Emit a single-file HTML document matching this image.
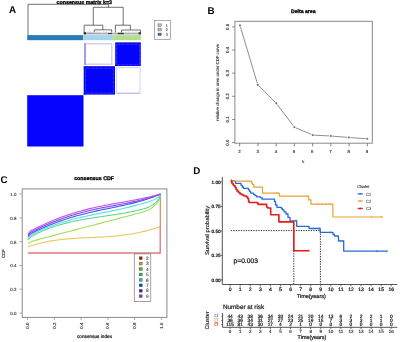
<!DOCTYPE html>
<html><head><meta charset="utf-8"><title>figure</title>
<style>
html,body{margin:0;padding:0;background:#fff;width:400px;height:342px;overflow:hidden;}
svg{display:block;will-change:transform;filter:blur(0.3px);}
text{font-family:"Liberation Sans", sans-serif;text-rendering:geometricPrecision;}
</style></head>
<body>
<svg width="400" height="342" viewBox="0 0 400 342">
<rect x="0" y="0" width="400" height="342" fill="#fff"/>
<text x="8.9" y="12.5" font-size="9.8" text-anchor="start" font-weight="bold" fill="#000" >A</text>
<text x="207.4" y="13.9" font-size="9.8" text-anchor="start" font-weight="bold" fill="#000" >B</text>
<text x="0.4" y="183.3" font-size="9.8" text-anchor="start" font-weight="bold" fill="#000" >C</text>
<text x="193.3" y="173.6" font-size="9.8" text-anchor="start" font-weight="bold" fill="#000" >D</text>
<text x="56.6" y="4.3" font-size="5.3" text-anchor="start" font-weight="bold" fill="#000" stroke="#000" stroke-width="0.3" textLength="55.4" lengthAdjust="spacingAndGlyphs" >consensus matrix k=3</text>
<line x1="28" y1="4.3" x2="108.6" y2="4.3" stroke="#333" stroke-width="0.7" />
<line x1="28" y1="4.3" x2="28" y2="35" stroke="#333" stroke-width="0.7" />
<line x1="108.6" y1="4.3" x2="108.6" y2="7.3" stroke="#333" stroke-width="0.7" />
<line x1="93.3" y1="7.3" x2="123.2" y2="7.3" stroke="#333" stroke-width="0.7" />
<line x1="93.3" y1="7.3" x2="93.3" y2="25.2" stroke="#333" stroke-width="0.7" />
<line x1="123.2" y1="7.3" x2="123.2" y2="25.2" stroke="#333" stroke-width="0.7" />
<line x1="84.2" y1="25.2" x2="102.8" y2="25.2" stroke="#333" stroke-width="0.7" />
<line x1="84.2" y1="25.2" x2="84.2" y2="34" stroke="#333" stroke-width="0.7" />
<line x1="102.8" y1="25.2" x2="102.8" y2="29.8" stroke="#333" stroke-width="0.7" />
<line x1="94.3" y1="29.8" x2="111.7" y2="29.8" stroke="#333" stroke-width="0.7" />
<line x1="94.3" y1="29.8" x2="94.3" y2="34" stroke="#333" stroke-width="0.7" />
<line x1="111.7" y1="29.8" x2="111.7" y2="34" stroke="#333" stroke-width="0.7" />
<line x1="115.4" y1="25.2" x2="130.4" y2="25.2" stroke="#333" stroke-width="0.7" />
<line x1="115.4" y1="25.2" x2="115.4" y2="34" stroke="#333" stroke-width="0.7" />
<line x1="130.4" y1="25.2" x2="130.4" y2="30" stroke="#333" stroke-width="0.7" />
<line x1="121.5" y1="30" x2="140.5" y2="30" stroke="#333" stroke-width="0.7" />
<line x1="121.5" y1="30" x2="121.5" y2="34" stroke="#333" stroke-width="0.7" />
<line x1="140.5" y1="30" x2="140.5" y2="34" stroke="#333" stroke-width="0.7" />
<rect x="84" y="32.3" width="57" height="1.9" fill="#dcdce2"/>
<rect x="86.5" y="32.3" width="9" height="1.6" fill="#c8c0ea"/>
<line x1="84" y1="33.8" x2="141" y2="33.8" stroke="#777" stroke-width="0.7"/>
<rect x="83.8" y="32.2" width="2.2" height="2.2" fill="#222"/>
<rect x="117.8" y="32.8" width="6" height="1.4" fill="#333"/>
<rect x="138.6" y="32.2" width="2.4" height="2.2" fill="#333"/>
<rect x="108" y="32.9" width="4" height="1.2" fill="#444"/>
<line x1="88" y1="31.2" x2="88" y2="33.5" stroke="#aaa" stroke-width="0.4"/>
<line x1="90.5" y1="31.2" x2="90.5" y2="33.5" stroke="#aaa" stroke-width="0.4"/>
<line x1="97" y1="31.2" x2="97" y2="33.5" stroke="#aaa" stroke-width="0.4"/>
<line x1="99.5" y1="31.2" x2="99.5" y2="33.5" stroke="#aaa" stroke-width="0.4"/>
<line x1="104" y1="31.2" x2="104" y2="33.5" stroke="#aaa" stroke-width="0.4"/>
<line x1="106.5" y1="31.2" x2="106.5" y2="33.5" stroke="#aaa" stroke-width="0.4"/>
<line x1="126" y1="31.2" x2="126" y2="33.5" stroke="#aaa" stroke-width="0.4"/>
<line x1="129" y1="31.2" x2="129" y2="33.5" stroke="#aaa" stroke-width="0.4"/>
<line x1="133" y1="31.2" x2="133" y2="33.5" stroke="#aaa" stroke-width="0.4"/>
<line x1="136" y1="31.2" x2="136" y2="33.5" stroke="#aaa" stroke-width="0.4"/>
<rect x="27.2" y="35.1" width="55.9" height="5.1" fill="#2a7aba" stroke="none" stroke-width="1" />
<rect x="83.1" y="35.1" width="30.1" height="5.1" fill="#a4d4ee" stroke="none" stroke-width="1" />
<rect x="113.2" y="35.1" width="27.7" height="5.1" fill="#b4de8c" stroke="none" stroke-width="1" />
<rect x="27.2" y="95.2" width="56.3" height="51.3" fill="#0505ff" stroke="none" stroke-width="1" />
<rect x="115.2" y="42.6" width="25.6" height="23.4" fill="#0505ff" stroke="none" stroke-width="1" />
<rect x="83.7" y="66.4" width="31.3" height="28.2" fill="#0505ff" stroke="none" stroke-width="1" />
<rect x="85.5" y="68.2" width="27.9" height="25.0" fill="#0404f8" stroke="none" stroke-width="1" />
<rect x="85.6" y="68.3" width="27.7" height="24.8" fill="none" stroke="#4040ff" stroke-width="1.0" stroke-dasharray="0.8 0.5"/>
<rect x="116.6" y="44.2" width="23.0" height="20.6" fill="#0404f8" stroke="none" stroke-width="1" />
<rect x="116.7" y="44.3" width="22.8" height="20.4" fill="none" stroke="#4040ff" stroke-width="1.0" stroke-dasharray="0.8 0.5"/>
<rect x="83.7" y="93.2" width="1.6" height="1.4" fill="#0000a0" stroke="none" stroke-width="1" />
<rect x="115.2" y="64.8" width="1.4" height="1.2" fill="#0000a0" stroke="none" stroke-width="1" />
<rect x="115.2" y="42.6" width="25.6" height="1.0" fill="#1010c8" stroke="none" stroke-width="1" />
<rect x="83.7" y="66.4" width="31.3" height="0.9" fill="#1010c8" stroke="none" stroke-width="1" />
<rect x="85.2" y="43.8" width="26.6" height="20.4" fill="none" stroke="#c4c8f4" stroke-width="1.2"/>
<line x1="85.0" y1="43" x2="85.0" y2="65" stroke="#8d8ff0" stroke-width="1.6"/>
<rect x="116.6" y="67.5" width="23.5" height="25.8" fill="none" stroke="#d2d4f6" stroke-width="1"/>
<line x1="116.6" y1="93.2" x2="140.1" y2="93.2" stroke="#b0b2f0" stroke-width="0.9"/>
<rect x="154.4" y="20.4" width="16.0" height="19.1" fill="#fff" stroke="#777" stroke-width="0.6" />
<rect x="158.0" y="23.9" width="3.2" height="2.4" fill="#a6cee3" stroke="#555" stroke-width="0.5" />
<rect x="158.0" y="28.5" width="3.2" height="2.4" fill="#b2df8a" stroke="#555" stroke-width="0.5" />
<rect x="158.0" y="33.1" width="3.2" height="2.4" fill="#1f78b4" stroke="#555" stroke-width="0.5" />
<text x="166.8" y="26.6" font-size="3.8" text-anchor="middle" font-weight="normal" fill="#444" stroke="#444" stroke-width="0.08" >1</text>
<text x="166.8" y="31.2" font-size="3.8" text-anchor="middle" font-weight="normal" fill="#444" stroke="#444" stroke-width="0.08" >2</text>
<text x="166.8" y="35.8" font-size="3.8" text-anchor="middle" font-weight="normal" fill="#444" stroke="#444" stroke-width="0.08" >3</text>
<text x="303.3" y="13.0" font-size="5.2" text-anchor="middle" font-weight="bold" fill="#000" stroke="#000" stroke-width="0.3" textLength="24.5" lengthAdjust="spacingAndGlyphs" >Delta area</text>
<rect x="234.9" y="21.3" width="137.4" height="121.9" fill="none" stroke="#8a8a8a" stroke-width="1" />
<line x1="232.2" y1="142.6" x2="234.9" y2="142.6" stroke="#666" stroke-width="0.8" />
<text x="228.8" y="142.6" font-size="4.4" text-anchor="middle" font-weight="normal" fill="#333" stroke="#333" stroke-width="0.15" transform="rotate(-90 228.8 142.6)" >0.0</text>
<line x1="232.2" y1="119.44999999999999" x2="234.9" y2="119.44999999999999" stroke="#666" stroke-width="0.8" />
<text x="228.8" y="119.44999999999999" font-size="4.4" text-anchor="middle" font-weight="normal" fill="#333" stroke="#333" stroke-width="0.15" transform="rotate(-90 228.8 119.44999999999999)" >0.1</text>
<line x1="232.2" y1="96.29999999999998" x2="234.9" y2="96.29999999999998" stroke="#666" stroke-width="0.8" />
<text x="228.8" y="96.29999999999998" font-size="4.4" text-anchor="middle" font-weight="normal" fill="#333" stroke="#333" stroke-width="0.15" transform="rotate(-90 228.8 96.29999999999998)" >0.2</text>
<line x1="232.2" y1="73.14999999999999" x2="234.9" y2="73.14999999999999" stroke="#666" stroke-width="0.8" />
<text x="228.8" y="73.14999999999999" font-size="4.4" text-anchor="middle" font-weight="normal" fill="#333" stroke="#333" stroke-width="0.15" transform="rotate(-90 228.8 73.14999999999999)" >0.3</text>
<line x1="232.2" y1="49.999999999999986" x2="234.9" y2="49.999999999999986" stroke="#666" stroke-width="0.8" />
<text x="228.8" y="49.999999999999986" font-size="4.4" text-anchor="middle" font-weight="normal" fill="#333" stroke="#333" stroke-width="0.15" transform="rotate(-90 228.8 49.999999999999986)" >0.4</text>
<line x1="232.2" y1="26.849999999999994" x2="234.9" y2="26.849999999999994" stroke="#666" stroke-width="0.8" />
<text x="228.8" y="26.849999999999994" font-size="4.4" text-anchor="middle" font-weight="normal" fill="#333" stroke="#333" stroke-width="0.15" transform="rotate(-90 228.8 26.849999999999994)" >0.5</text>
<line x1="239.7" y1="143.2" x2="239.7" y2="146.4" stroke="#666" stroke-width="0.8" />
<text x="239.39999999999998" y="153.2" font-size="4.4" text-anchor="middle" font-weight="normal" fill="#333" stroke="#333" stroke-width="0.15" >2</text>
<line x1="257.93" y1="143.2" x2="257.93" y2="146.4" stroke="#666" stroke-width="0.8" />
<text x="257.63" y="153.2" font-size="4.4" text-anchor="middle" font-weight="normal" fill="#333" stroke="#333" stroke-width="0.15" >3</text>
<line x1="276.15999999999997" y1="143.2" x2="276.15999999999997" y2="146.4" stroke="#666" stroke-width="0.8" />
<text x="275.85999999999996" y="153.2" font-size="4.4" text-anchor="middle" font-weight="normal" fill="#333" stroke="#333" stroke-width="0.15" >4</text>
<line x1="294.39" y1="143.2" x2="294.39" y2="146.4" stroke="#666" stroke-width="0.8" />
<text x="294.09" y="153.2" font-size="4.4" text-anchor="middle" font-weight="normal" fill="#333" stroke="#333" stroke-width="0.15" >5</text>
<line x1="312.62" y1="143.2" x2="312.62" y2="146.4" stroke="#666" stroke-width="0.8" />
<text x="312.32" y="153.2" font-size="4.4" text-anchor="middle" font-weight="normal" fill="#333" stroke="#333" stroke-width="0.15" >6</text>
<line x1="330.85" y1="143.2" x2="330.85" y2="146.4" stroke="#666" stroke-width="0.8" />
<text x="330.55" y="153.2" font-size="4.4" text-anchor="middle" font-weight="normal" fill="#333" stroke="#333" stroke-width="0.15" >7</text>
<line x1="349.08" y1="143.2" x2="349.08" y2="146.4" stroke="#666" stroke-width="0.8" />
<text x="348.78" y="153.2" font-size="4.4" text-anchor="middle" font-weight="normal" fill="#333" stroke="#333" stroke-width="0.15" >8</text>
<line x1="367.31" y1="143.2" x2="367.31" y2="146.4" stroke="#666" stroke-width="0.8" />
<text x="367.01" y="153.2" font-size="4.4" text-anchor="middle" font-weight="normal" fill="#333" stroke="#333" stroke-width="0.15" >9</text>
<text x="303.2" y="163.1" font-size="4.0" text-anchor="middle" font-weight="normal" fill="#333" stroke="#333" stroke-width="0.12" >k</text>
<text x="218.7" y="82.5" font-size="4.3" text-anchor="middle" font-weight="normal" fill="#333" stroke="#333" stroke-width="0.1" transform="rotate(-90 218.7 82.5)" textLength="77" lengthAdjust="spacingAndGlyphs" >relative change in area under CDF curve</text>
<line x1="240.46" y1="26.93" x2="257.34" y2="83.37" stroke="#909090" stroke-width="1.0" />
<line x1="258.93" y1="86.03" x2="275.07" y2="102.17" stroke="#909090" stroke-width="1.0" />
<line x1="277.17" y1="104.57" x2="293.43" y2="125.93" stroke="#909090" stroke-width="1.0" />
<line x1="295.87" y1="127.83" x2="311.33" y2="134.47" stroke="#909090" stroke-width="1.0" />
<line x1="314.4" y1="135.18" x2="329.3" y2="135.92" stroke="#909090" stroke-width="1.0" />
<line x1="332.49" y1="136.13" x2="347.31" y2="137.37" stroke="#909090" stroke-width="1.0" />
<line x1="350.5" y1="137.61" x2="365.7" y2="138.69" stroke="#909090" stroke-width="1.0" />
<rect x="239.1" y="24.5" width="1.8" height="1.8" fill="#707070" stroke="none" stroke-width="1" />
<rect x="256.90000000000003" y="84.0" width="1.8" height="1.8" fill="#707070" stroke="none" stroke-width="1" />
<rect x="275.3" y="102.39999999999999" width="1.8" height="1.8" fill="#707070" stroke="none" stroke-width="1" />
<rect x="293.5" y="126.3" width="1.8" height="1.8" fill="#707070" stroke="none" stroke-width="1" />
<rect x="311.90000000000003" y="134.2" width="1.8" height="1.8" fill="#707070" stroke="none" stroke-width="1" />
<rect x="330.0" y="135.1" width="1.8" height="1.8" fill="#707070" stroke="none" stroke-width="1" />
<rect x="348.0" y="136.6" width="1.8" height="1.8" fill="#707070" stroke="none" stroke-width="1" />
<rect x="366.40000000000003" y="137.9" width="1.8" height="1.8" fill="#707070" stroke="none" stroke-width="1" />
<text x="94.1" y="180.4" font-size="5.25" text-anchor="middle" font-weight="bold" fill="#000" stroke="#000" stroke-width="0.3" textLength="39.8" lengthAdjust="spacingAndGlyphs" >consensus CDF</text>
<rect x="22.2" y="188.9" width="144.7" height="128.5" fill="none" stroke="#8a8a8a" stroke-width="1" />
<line x1="19.4" y1="313.0" x2="22.2" y2="313.0" stroke="#8a8a8a" stroke-width="0.7" />
<text x="16.4" y="315.0" font-size="4.4" text-anchor="end" font-weight="normal" fill="#333" stroke="#333" stroke-width="0.14" >0.0</text>
<line x1="27.6" y1="317.4" x2="27.6" y2="320.0" stroke="#8a8a8a" stroke-width="0.7" />
<text x="29.1" y="325.6" font-size="4.4" text-anchor="middle" font-weight="normal" fill="#333" stroke="#333" stroke-width="0.14" transform="rotate(-90 29.1 325.6)" >0.0</text>
<line x1="19.4" y1="289.2" x2="22.2" y2="289.2" stroke="#8a8a8a" stroke-width="0.7" />
<text x="16.4" y="291.2" font-size="4.4" text-anchor="end" font-weight="normal" fill="#333" stroke="#333" stroke-width="0.14" >0.2</text>
<line x1="54.36000000000001" y1="317.4" x2="54.36000000000001" y2="320.0" stroke="#8a8a8a" stroke-width="0.7" />
<text x="55.86000000000001" y="325.6" font-size="4.4" text-anchor="middle" font-weight="normal" fill="#333" stroke="#333" stroke-width="0.14" transform="rotate(-90 55.86000000000001 325.6)" >0.2</text>
<line x1="19.4" y1="265.4" x2="22.2" y2="265.4" stroke="#8a8a8a" stroke-width="0.7" />
<text x="16.4" y="267.4" font-size="4.4" text-anchor="end" font-weight="normal" fill="#333" stroke="#333" stroke-width="0.14" >0.4</text>
<line x1="81.12" y1="317.4" x2="81.12" y2="320.0" stroke="#8a8a8a" stroke-width="0.7" />
<text x="82.62" y="325.6" font-size="4.4" text-anchor="middle" font-weight="normal" fill="#333" stroke="#333" stroke-width="0.14" transform="rotate(-90 82.62 325.6)" >0.4</text>
<line x1="19.4" y1="241.60000000000002" x2="22.2" y2="241.60000000000002" stroke="#8a8a8a" stroke-width="0.7" />
<text x="16.4" y="243.60000000000002" font-size="4.4" text-anchor="end" font-weight="normal" fill="#333" stroke="#333" stroke-width="0.14" >0.6</text>
<line x1="107.88" y1="317.4" x2="107.88" y2="320.0" stroke="#8a8a8a" stroke-width="0.7" />
<text x="109.38" y="325.6" font-size="4.4" text-anchor="middle" font-weight="normal" fill="#333" stroke="#333" stroke-width="0.14" transform="rotate(-90 109.38 325.6)" >0.6</text>
<line x1="19.4" y1="217.8" x2="22.2" y2="217.8" stroke="#8a8a8a" stroke-width="0.7" />
<text x="16.4" y="219.8" font-size="4.4" text-anchor="end" font-weight="normal" fill="#333" stroke="#333" stroke-width="0.14" >0.8</text>
<line x1="134.64000000000001" y1="317.4" x2="134.64000000000001" y2="320.0" stroke="#8a8a8a" stroke-width="0.7" />
<text x="136.14000000000001" y="325.6" font-size="4.4" text-anchor="middle" font-weight="normal" fill="#333" stroke="#333" stroke-width="0.14" transform="rotate(-90 136.14000000000001 325.6)" >0.8</text>
<line x1="19.4" y1="194.0" x2="22.2" y2="194.0" stroke="#8a8a8a" stroke-width="0.7" />
<text x="16.4" y="196.0" font-size="4.4" text-anchor="end" font-weight="normal" fill="#333" stroke="#333" stroke-width="0.14" >1.0</text>
<line x1="161.4" y1="317.4" x2="161.4" y2="320.0" stroke="#8a8a8a" stroke-width="0.7" />
<text x="162.9" y="325.6" font-size="4.4" text-anchor="middle" font-weight="normal" fill="#333" stroke="#333" stroke-width="0.14" transform="rotate(-90 162.9 325.6)" >1.0</text>
<text x="94.5" y="338.2" font-size="4.7" text-anchor="middle" font-weight="normal" fill="#222" stroke="#222" stroke-width="0.22" textLength="35" lengthAdjust="spacingAndGlyphs" >consensus index</text>
<text x="5.2" y="253.5" font-size="4.4" text-anchor="middle" font-weight="normal" fill="#333" stroke="#333" stroke-width="0.14" transform="rotate(-90 5.2 253.5)" >CDF</text>
<polyline points="28.00,253.00 160.20,253.00" fill="none" stroke="#e07880" stroke-width="1.7" stroke-linejoin="round" />
<line x1="160.2" y1="253.8" x2="160.2" y2="226" stroke="#d86878" stroke-width="1.2" />
<polyline points="28.00,246.80 29.00,246.36 30.00,246.00 31.00,245.74 32.00,245.52 33.00,245.29 34.00,245.00 35.00,244.68 36.00,244.37 37.00,244.08 38.00,243.80 39.00,243.54 40.00,243.28 41.00,243.03 42.00,242.78 43.00,242.55 44.00,242.33 45.00,242.11 46.00,241.90 47.00,241.70 48.00,241.50 49.00,241.32 50.00,241.14 51.00,240.97 52.00,240.80 53.00,240.64 54.00,240.49 55.00,240.34 56.00,240.20 57.00,240.06 58.00,239.93 59.00,239.81 60.00,239.69 61.00,239.57 62.00,239.46 63.00,239.36 64.00,239.26 65.00,239.16 66.00,239.07 67.00,238.98 68.00,238.89 69.00,238.81 70.00,238.73 71.00,238.66 72.00,238.59 73.00,238.52 74.00,238.45 75.00,238.39 76.00,238.32 77.00,238.26 78.00,238.21 79.00,238.15 80.00,238.10 81.00,238.04 82.00,237.99 83.00,237.94 84.00,237.89 85.00,237.84 86.00,237.80 87.00,237.75 88.00,237.70 89.00,237.66 90.00,237.61 91.00,237.56 92.00,237.52 93.00,237.47 94.00,237.42 95.00,237.37 96.00,237.32 97.00,237.27 98.00,237.22 99.00,237.17 100.00,237.11 101.00,237.06 102.00,237.00 103.00,236.94 104.00,236.88 105.00,236.82 106.00,236.75 107.00,236.69 108.00,236.62 109.00,236.54 110.00,236.47 111.00,236.39 112.00,236.31 113.00,236.22 114.00,236.13 115.00,236.04 116.00,235.95 117.00,235.85 118.00,235.75 119.00,235.64 120.00,235.53 121.00,235.41 122.00,235.30 123.00,235.17 124.00,235.04 125.00,234.91 126.00,234.77 127.00,234.63 128.00,234.49 129.00,234.33 130.00,234.18 131.00,234.01 132.00,233.85 133.00,233.67 134.00,233.49 135.00,233.31 136.00,233.12 137.00,232.92 138.00,232.72 139.00,232.51 140.00,232.30 141.00,232.08 142.00,231.85 143.00,231.62 144.00,231.38 145.00,231.13 146.00,230.87 147.00,230.61 148.00,230.35 149.00,230.07 150.00,229.79 151.00,229.50 152.00,229.20 153.00,228.90 154.00,228.59 155.00,228.27 156.00,227.94 157.00,227.64 158.00,227.32 159.00,226.92 160.00,226.24 160.30,226.00" fill="none" stroke="#f0c858" stroke-width="1.1" stroke-linejoin="round" />
<line x1="160.3" y1="226.5" x2="160.3" y2="194" stroke="#d88a50" stroke-width="1.2" />
<polyline points="28.00,243.50 29.00,242.93 30.00,242.40 31.00,241.88 32.00,241.38 33.00,240.97 34.00,240.66 35.00,240.41 36.00,240.16 37.00,239.89 38.00,239.62 39.00,239.35 40.00,239.09 41.00,238.82 42.00,238.55 43.00,238.29 44.00,238.02 45.00,237.76 46.00,237.49 47.00,237.22 48.00,236.96 49.00,236.69 50.00,236.43 51.00,236.17 52.00,235.90 53.00,235.64 54.00,235.37 55.00,235.11 56.00,234.85 57.00,234.59 58.00,234.32 59.00,234.06 60.00,233.80 61.00,233.54 62.00,233.27 63.00,233.01 64.00,232.75 65.00,232.49 66.00,232.23 67.00,231.97 68.00,231.71 69.00,231.44 70.00,231.18 71.00,230.92 72.00,230.66 73.00,230.40 74.00,230.14 75.00,229.88 76.00,229.62 77.00,229.36 78.00,229.10 79.00,228.84 80.00,228.58 81.00,228.32 82.00,228.06 83.00,227.80 84.00,227.54 85.00,227.28 86.00,227.02 87.00,226.76 88.00,226.50 89.00,226.24 90.00,225.98 91.00,225.72 92.00,225.46 93.00,225.20 94.00,224.94 95.00,224.67 96.00,224.41 97.00,224.15 98.00,223.89 99.00,223.63 100.00,223.37 101.00,223.11 102.00,222.85 103.00,222.59 104.00,222.32 105.00,222.06 106.00,221.80 107.00,221.54 108.00,221.27 109.00,221.01 110.00,220.75 111.00,220.49 112.00,220.22 113.00,219.96 114.00,219.70 115.00,219.43 116.00,219.17 117.00,218.90 118.00,218.64 119.00,218.37 120.00,218.11 121.00,217.84 122.00,217.58 123.00,217.31 124.00,217.04 125.00,216.78 126.00,216.51 127.00,216.24 128.00,215.97 129.00,215.71 130.00,215.44 131.00,215.17 132.00,214.90 133.00,214.63 134.00,214.36 135.00,214.09 136.00,213.82 137.00,213.55 138.00,213.28 139.00,213.00 140.00,212.73 141.00,212.46 142.00,212.20 143.00,211.93 144.00,211.64 145.00,211.31 146.00,210.96 147.00,210.59 148.00,210.17 149.00,209.71 150.00,209.20 151.00,208.59 152.00,207.87 153.00,207.05 154.00,206.15 155.00,205.20 156.00,204.17 157.00,202.98 158.00,201.60 159.00,199.97 160.00,196.80 160.50,194.00" fill="none" stroke="#a4de58" stroke-width="1.1" stroke-linejoin="round" />
<polyline points="28.00,240.30 29.00,238.92 30.00,237.80 31.00,236.95 32.00,236.23 33.00,235.60 34.00,235.05 35.00,234.55 36.00,234.06 37.00,233.57 38.00,233.09 39.00,232.62 40.00,232.16 41.00,231.70 42.00,231.26 43.00,230.83 44.00,230.40 45.00,229.99 46.00,229.58 47.00,229.19 48.00,228.80 49.00,228.42 50.00,228.05 51.00,227.68 52.00,227.33 53.00,226.98 54.00,226.64 55.00,226.31 56.00,225.99 57.00,225.67 58.00,225.36 59.00,225.06 60.00,224.76 61.00,224.47 62.00,224.19 63.00,223.92 64.00,223.65 65.00,223.38 66.00,223.13 67.00,222.87 68.00,222.63 69.00,222.39 70.00,222.15 71.00,221.92 72.00,221.70 73.00,221.48 74.00,221.26 75.00,221.05 76.00,220.84 77.00,220.64 78.00,220.44 79.00,220.25 80.00,220.06 81.00,219.87 82.00,219.69 83.00,219.51 84.00,219.33 85.00,219.16 86.00,218.99 87.00,218.82 88.00,218.65 89.00,218.49 90.00,218.33 91.00,218.17 92.00,218.01 93.00,217.86 94.00,217.71 95.00,217.55 96.00,217.40 97.00,217.25 98.00,217.11 99.00,216.96 100.00,216.81 101.00,216.67 102.00,216.52 103.00,216.37 104.00,216.23 105.00,216.08 106.00,215.94 107.00,215.79 108.00,215.65 109.00,215.50 110.00,215.35 111.00,215.20 112.00,215.05 113.00,214.90 114.00,214.75 115.00,214.59 116.00,214.44 117.00,214.28 118.00,214.12 119.00,213.96 120.00,213.79 121.00,213.63 122.00,213.46 123.00,213.28 124.00,213.11 125.00,212.93 126.00,212.75 127.00,212.56 128.00,212.37 129.00,212.18 130.00,211.98 131.00,211.78 132.00,211.58 133.00,211.37 134.00,211.16 135.00,210.94 136.00,210.72 137.00,210.49 138.00,210.25 139.00,210.02 140.00,209.77 141.00,209.52 142.00,209.28 143.00,209.02 144.00,208.74 145.00,208.43 146.00,208.11 147.00,207.75 148.00,207.37 149.00,206.96 150.00,206.50 151.00,205.98 152.00,205.38 153.00,204.71 154.00,203.98 155.00,203.20 156.00,202.34 157.00,201.36 158.00,200.20 159.00,198.80 160.00,196.20 160.50,194.00" fill="none" stroke="#58dc90" stroke-width="1.1" stroke-linejoin="round" />
<polyline points="28.00,238.40 29.00,237.06 30.00,236.00 31.00,235.23 32.00,234.59 33.00,234.02 34.00,233.49 35.00,233.01 36.00,232.53 37.00,232.05 38.00,231.58 39.00,231.12 40.00,230.66 41.00,230.22 42.00,229.78 43.00,229.35 44.00,228.92 45.00,228.51 46.00,228.10 47.00,227.70 48.00,227.30 49.00,226.91 50.00,226.53 51.00,226.15 52.00,225.79 53.00,225.42 54.00,225.07 55.00,224.72 56.00,224.37 57.00,224.04 58.00,223.70 59.00,223.38 60.00,223.06 61.00,222.74 62.00,222.43 63.00,222.12 64.00,221.82 65.00,221.53 66.00,221.24 67.00,220.95 68.00,220.67 69.00,220.39 70.00,220.12 71.00,219.85 72.00,219.59 73.00,219.33 74.00,219.07 75.00,218.82 76.00,218.57 77.00,218.32 78.00,218.08 79.00,217.84 80.00,217.60 81.00,217.36 82.00,217.13 83.00,216.90 84.00,216.68 85.00,216.45 86.00,216.23 87.00,216.01 88.00,215.80 89.00,215.58 90.00,215.37 91.00,215.16 92.00,214.95 93.00,214.74 94.00,214.53 95.00,214.32 96.00,214.12 97.00,213.91 98.00,213.71 99.00,213.51 100.00,213.31 101.00,213.10 102.00,212.90 103.00,212.70 104.00,212.50 105.00,212.30 106.00,212.10 107.00,211.89 108.00,211.69 109.00,211.49 110.00,211.29 111.00,211.08 112.00,210.88 113.00,210.67 114.00,210.46 115.00,210.25 116.00,210.04 117.00,209.83 118.00,209.62 119.00,209.40 120.00,209.19 121.00,208.97 122.00,208.75 123.00,208.52 124.00,208.30 125.00,208.07 126.00,207.84 127.00,207.61 128.00,207.37 129.00,207.13 130.00,206.89 131.00,206.64 132.00,206.39 133.00,206.14 134.00,205.88 135.00,205.62 136.00,205.36 137.00,205.09 138.00,204.82 139.00,204.54 140.00,204.26 141.00,203.97 142.00,203.68 143.00,203.39 144.00,203.09 145.00,202.79 146.00,202.48 147.00,202.16 148.00,201.83 149.00,201.50 150.00,201.17 151.00,200.83 152.00,200.47 153.00,200.08 154.00,199.66 155.00,199.20 156.00,198.68 157.00,198.07 158.00,197.30 159.00,196.22 160.00,194.80 160.50,194.00" fill="none" stroke="#60dcea" stroke-width="1.1" stroke-linejoin="round" />
<polyline points="28.00,236.60 29.00,235.31 30.00,234.30 31.00,233.58 32.00,233.00 33.00,232.47 34.00,231.97 35.00,231.50 36.00,231.04 37.00,230.57 38.00,230.10 39.00,229.64 40.00,229.19 41.00,228.74 42.00,228.29 43.00,227.85 44.00,227.42 45.00,226.99 46.00,226.56 47.00,226.14 48.00,225.73 49.00,225.32 50.00,224.91 51.00,224.51 52.00,224.12 53.00,223.73 54.00,223.34 55.00,222.96 56.00,222.59 57.00,222.22 58.00,221.85 59.00,221.49 60.00,221.14 61.00,220.78 62.00,220.44 63.00,220.10 64.00,219.76 65.00,219.43 66.00,219.10 67.00,218.78 68.00,218.46 69.00,218.14 70.00,217.83 71.00,217.53 72.00,217.23 73.00,216.93 74.00,216.64 75.00,216.35 76.00,216.06 77.00,215.78 78.00,215.51 79.00,215.23 80.00,214.96 81.00,214.70 82.00,214.44 83.00,214.18 84.00,213.92 85.00,213.67 86.00,213.42 87.00,213.18 88.00,212.93 89.00,212.69 90.00,212.46 91.00,212.22 92.00,211.99 93.00,211.76 94.00,211.53 95.00,211.31 96.00,211.09 97.00,210.87 98.00,210.65 99.00,210.43 100.00,210.22 101.00,210.00 102.00,209.79 103.00,209.58 104.00,209.37 105.00,209.16 106.00,208.96 107.00,208.75 108.00,208.54 109.00,208.34 110.00,208.13 111.00,207.93 112.00,207.72 113.00,207.52 114.00,207.31 115.00,207.10 116.00,206.90 117.00,206.69 118.00,206.48 119.00,206.27 120.00,206.06 121.00,205.85 122.00,205.63 123.00,205.42 124.00,205.20 125.00,204.98 126.00,204.76 127.00,204.53 128.00,204.31 129.00,204.07 130.00,203.84 131.00,203.60 132.00,203.36 133.00,203.12 134.00,202.87 135.00,202.62 136.00,202.36 137.00,202.10 138.00,201.83 139.00,201.56 140.00,201.28 141.00,201.00 142.00,200.71 143.00,200.42 144.00,200.12 145.00,199.81 146.00,199.50 147.00,199.18 148.00,198.85 149.00,198.52 150.00,198.18 151.00,197.83 152.00,197.47 153.00,197.11 154.00,196.73 155.00,196.35 156.00,195.96 157.00,195.56 158.00,195.15 159.00,194.72 160.00,194.25 160.50,194.00" fill="none" stroke="#4058f0" stroke-width="1.1" stroke-linejoin="round" />
<polyline points="28.00,235.30 29.00,233.86 30.00,232.80 31.00,232.13 32.00,231.63 33.00,231.14 34.00,230.63 35.00,230.14 36.00,229.66 37.00,229.18 38.00,228.70 39.00,228.22 40.00,227.75 41.00,227.29 42.00,226.82 43.00,226.37 44.00,225.92 45.00,225.47 46.00,225.03 47.00,224.59 48.00,224.16 49.00,223.73 50.00,223.31 51.00,222.90 52.00,222.49 53.00,222.08 54.00,221.68 55.00,221.28 56.00,220.89 57.00,220.50 58.00,220.12 59.00,219.75 60.00,219.38 61.00,219.01 62.00,218.65 63.00,218.29 64.00,217.94 65.00,217.60 66.00,217.26 67.00,216.92 68.00,216.59 69.00,216.26 70.00,215.94 71.00,215.63 72.00,215.31 73.00,215.01 74.00,214.70 75.00,214.41 76.00,214.11 77.00,213.83 78.00,213.54 79.00,213.26 80.00,212.99 81.00,212.72 82.00,212.45 83.00,212.19 84.00,211.93 85.00,211.67 86.00,211.42 87.00,211.17 88.00,210.93 89.00,210.69 90.00,210.46 91.00,210.22 92.00,209.99 93.00,209.77 94.00,209.54 95.00,209.32 96.00,209.11 97.00,208.89 98.00,208.68 99.00,208.47 100.00,208.27 101.00,208.06 102.00,207.86 103.00,207.66 104.00,207.46 105.00,207.27 106.00,207.07 107.00,206.88 108.00,206.69 109.00,206.50 110.00,206.31 111.00,206.12 112.00,205.93 113.00,205.75 114.00,205.56 115.00,205.38 116.00,205.19 117.00,205.00 118.00,204.82 119.00,204.63 120.00,204.44 121.00,204.26 122.00,204.07 123.00,203.88 124.00,203.69 125.00,203.49 126.00,203.30 127.00,203.10 128.00,202.90 129.00,202.70 130.00,202.50 131.00,202.29 132.00,202.09 133.00,201.87 134.00,201.66 135.00,201.44 136.00,201.22 137.00,200.99 138.00,200.76 139.00,200.52 140.00,200.28 141.00,200.04 142.00,199.79 143.00,199.53 144.00,199.27 145.00,199.00 146.00,198.73 147.00,198.45 148.00,198.16 149.00,197.86 150.00,197.56 151.00,197.25 152.00,196.94 153.00,196.61 154.00,196.28 155.00,195.94 156.00,195.58 157.00,195.21 158.00,194.83 159.00,194.48 160.00,194.15 160.50,194.00" fill="none" stroke="#7a48f0" stroke-width="1.1" stroke-linejoin="round" />
<polyline points="28.00,234.50 29.00,232.74 30.00,231.50 31.00,230.81 32.00,230.31 33.00,229.82 34.00,229.30 35.00,228.79 36.00,228.28 37.00,227.78 38.00,227.28 39.00,226.79 40.00,226.31 41.00,225.83 42.00,225.35 43.00,224.88 44.00,224.42 45.00,223.96 46.00,223.50 47.00,223.05 48.00,222.61 49.00,222.17 50.00,221.74 51.00,221.32 52.00,220.90 53.00,220.48 54.00,220.07 55.00,219.66 56.00,219.26 57.00,218.87 58.00,218.48 59.00,218.10 60.00,217.72 61.00,217.35 62.00,216.98 63.00,216.62 64.00,216.26 65.00,215.91 66.00,215.56 67.00,215.22 68.00,214.88 69.00,214.55 70.00,214.22 71.00,213.90 72.00,213.58 73.00,213.27 74.00,212.96 75.00,212.65 76.00,212.36 77.00,212.06 78.00,211.77 79.00,211.49 80.00,211.21 81.00,210.93 82.00,210.66 83.00,210.39 84.00,210.13 85.00,209.87 86.00,209.61 87.00,209.36 88.00,209.11 89.00,208.87 90.00,208.63 91.00,208.39 92.00,208.15 93.00,207.92 94.00,207.70 95.00,207.47 96.00,207.25 97.00,207.04 98.00,206.82 99.00,206.61 100.00,206.40 101.00,206.20 102.00,205.99 103.00,205.79 104.00,205.59 105.00,205.40 106.00,205.20 107.00,205.01 108.00,204.82 109.00,204.63 110.00,204.44 111.00,204.26 112.00,204.07 113.00,203.89 114.00,203.71 115.00,203.53 116.00,203.35 117.00,203.17 118.00,202.99 119.00,202.82 120.00,202.64 121.00,202.46 122.00,202.28 123.00,202.11 124.00,201.93 125.00,201.75 126.00,201.57 127.00,201.40 128.00,201.22 129.00,201.04 130.00,200.85 131.00,200.67 132.00,200.49 133.00,200.30 134.00,200.11 135.00,199.92 136.00,199.73 137.00,199.54 138.00,199.34 139.00,199.14 140.00,198.94 141.00,198.74 142.00,198.53 143.00,198.32 144.00,198.10 145.00,197.88 146.00,197.66 147.00,197.44 148.00,197.20 149.00,196.97 150.00,196.73 151.00,196.49 152.00,196.24 153.00,195.98 154.00,195.72 155.00,195.45 156.00,195.18 157.00,194.89 158.00,194.60 159.00,194.33 160.00,194.10 160.50,194.00" fill="none" stroke="#cc50e0" stroke-width="1.1" stroke-linejoin="round" />
<rect x="134.2" y="253.9" width="16.6" height="47.6" fill="#fff" stroke="#666" stroke-width="0.6" />
<rect x="139.2" y="256.8" width="3.0" height="2.8" fill="#a01e10" stroke="#555" stroke-width="0.4" />
<text x="147.3" y="259.9" font-size="4.8" text-anchor="middle" font-weight="normal" fill="#444" stroke="#444" stroke-width="0.1" >2</text>
<rect x="139.2" y="262.23" width="3.0" height="2.8" fill="#b0a030" stroke="#555" stroke-width="0.4" />
<text x="147.3" y="265.33" font-size="4.8" text-anchor="middle" font-weight="normal" fill="#444" stroke="#444" stroke-width="0.1" >3</text>
<rect x="139.2" y="267.66" width="3.0" height="2.8" fill="#40b030" stroke="#555" stroke-width="0.4" />
<text x="147.3" y="270.76" font-size="4.8" text-anchor="middle" font-weight="normal" fill="#444" stroke="#444" stroke-width="0.1" >4</text>
<rect x="139.2" y="273.09000000000003" width="3.0" height="2.8" fill="#30b050" stroke="#555" stroke-width="0.4" />
<text x="147.3" y="276.19" font-size="4.8" text-anchor="middle" font-weight="normal" fill="#444" stroke="#444" stroke-width="0.1" >5</text>
<rect x="139.2" y="278.52" width="3.0" height="2.8" fill="#30b0c0" stroke="#555" stroke-width="0.4" />
<text x="147.3" y="281.61999999999995" font-size="4.8" text-anchor="middle" font-weight="normal" fill="#444" stroke="#444" stroke-width="0.1" >6</text>
<rect x="139.2" y="283.95" width="3.0" height="2.8" fill="#1040b0" stroke="#555" stroke-width="0.4" />
<text x="147.3" y="287.04999999999995" font-size="4.8" text-anchor="middle" font-weight="normal" fill="#444" stroke="#444" stroke-width="0.1" >7</text>
<rect x="139.2" y="289.38" width="3.0" height="2.8" fill="#402090" stroke="#555" stroke-width="0.4" />
<text x="147.3" y="292.47999999999996" font-size="4.8" text-anchor="middle" font-weight="normal" fill="#444" stroke="#444" stroke-width="0.1" >8</text>
<rect x="139.2" y="294.81" width="3.0" height="2.8" fill="#9030c0" stroke="#555" stroke-width="0.4" />
<text x="147.3" y="297.90999999999997" font-size="4.8" text-anchor="middle" font-weight="normal" fill="#444" stroke="#444" stroke-width="0.1" >9</text>
<line x1="222.3" y1="176.8" x2="222.3" y2="284.5" stroke="#333" stroke-width="0.85" />
<line x1="222.3" y1="284.5" x2="397.3" y2="284.5" stroke="#333" stroke-width="0.85" />
<line x1="220.6" y1="181.89999999999998" x2="222.3" y2="181.89999999999998" stroke="#333" stroke-width="0.7" />
<text x="220.6" y="183.59999999999997" font-size="4.7" text-anchor="end" font-weight="normal" fill="#111" stroke="#111" stroke-width="0.22" >1.00</text>
<line x1="220.6" y1="206.39999999999998" x2="222.3" y2="206.39999999999998" stroke="#333" stroke-width="0.7" />
<text x="220.6" y="208.09999999999997" font-size="4.7" text-anchor="end" font-weight="normal" fill="#111" stroke="#111" stroke-width="0.22" >0.75</text>
<line x1="220.6" y1="230.89999999999998" x2="222.3" y2="230.89999999999998" stroke="#333" stroke-width="0.7" />
<text x="220.6" y="232.59999999999997" font-size="4.7" text-anchor="end" font-weight="normal" fill="#111" stroke="#111" stroke-width="0.22" >0.50</text>
<line x1="220.6" y1="255.39999999999998" x2="222.3" y2="255.39999999999998" stroke="#333" stroke-width="0.7" />
<text x="220.6" y="257.09999999999997" font-size="4.7" text-anchor="end" font-weight="normal" fill="#111" stroke="#111" stroke-width="0.22" >0.25</text>
<line x1="220.6" y1="279.9" x2="222.3" y2="279.9" stroke="#333" stroke-width="0.7" />
<text x="220.6" y="281.59999999999997" font-size="4.7" text-anchor="end" font-weight="normal" fill="#111" stroke="#111" stroke-width="0.22" >0.00</text>
<line x1="230.1" y1="284.5" x2="230.1" y2="286.4" stroke="#333" stroke-width="0.7" />
<text x="230.1" y="290.9" font-size="5.0" text-anchor="middle" font-weight="normal" fill="#111" stroke="#111" stroke-width="0.22" >0</text>
<line x1="240.17" y1="284.5" x2="240.17" y2="286.4" stroke="#333" stroke-width="0.7" />
<text x="240.17" y="290.9" font-size="5.0" text-anchor="middle" font-weight="normal" fill="#111" stroke="#111" stroke-width="0.22" >1</text>
<line x1="250.24" y1="284.5" x2="250.24" y2="286.4" stroke="#333" stroke-width="0.7" />
<text x="250.24" y="290.9" font-size="5.0" text-anchor="middle" font-weight="normal" fill="#111" stroke="#111" stroke-width="0.22" >2</text>
<line x1="260.31" y1="284.5" x2="260.31" y2="286.4" stroke="#333" stroke-width="0.7" />
<text x="260.31" y="290.9" font-size="5.0" text-anchor="middle" font-weight="normal" fill="#111" stroke="#111" stroke-width="0.22" >3</text>
<line x1="270.38" y1="284.5" x2="270.38" y2="286.4" stroke="#333" stroke-width="0.7" />
<text x="270.38" y="290.9" font-size="5.0" text-anchor="middle" font-weight="normal" fill="#111" stroke="#111" stroke-width="0.22" >4</text>
<line x1="280.45" y1="284.5" x2="280.45" y2="286.4" stroke="#333" stroke-width="0.7" />
<text x="280.45" y="290.9" font-size="5.0" text-anchor="middle" font-weight="normal" fill="#111" stroke="#111" stroke-width="0.22" >5</text>
<line x1="290.52" y1="284.5" x2="290.52" y2="286.4" stroke="#333" stroke-width="0.7" />
<text x="290.52" y="290.9" font-size="5.0" text-anchor="middle" font-weight="normal" fill="#111" stroke="#111" stroke-width="0.22" >6</text>
<line x1="300.59000000000003" y1="284.5" x2="300.59000000000003" y2="286.4" stroke="#333" stroke-width="0.7" />
<text x="300.59000000000003" y="290.9" font-size="5.0" text-anchor="middle" font-weight="normal" fill="#111" stroke="#111" stroke-width="0.22" >7</text>
<line x1="310.65999999999997" y1="284.5" x2="310.65999999999997" y2="286.4" stroke="#333" stroke-width="0.7" />
<text x="310.65999999999997" y="290.9" font-size="5.0" text-anchor="middle" font-weight="normal" fill="#111" stroke="#111" stroke-width="0.22" >8</text>
<line x1="320.73" y1="284.5" x2="320.73" y2="286.4" stroke="#333" stroke-width="0.7" />
<text x="320.73" y="290.9" font-size="5.0" text-anchor="middle" font-weight="normal" fill="#111" stroke="#111" stroke-width="0.22" >9</text>
<line x1="330.8" y1="284.5" x2="330.8" y2="286.4" stroke="#333" stroke-width="0.7" />
<text x="330.8" y="290.9" font-size="5.0" text-anchor="middle" font-weight="normal" fill="#111" stroke="#111" stroke-width="0.22" >10</text>
<line x1="340.87" y1="284.5" x2="340.87" y2="286.4" stroke="#333" stroke-width="0.7" />
<text x="340.87" y="290.9" font-size="5.0" text-anchor="middle" font-weight="normal" fill="#111" stroke="#111" stroke-width="0.22" >11</text>
<line x1="350.94" y1="284.5" x2="350.94" y2="286.4" stroke="#333" stroke-width="0.7" />
<text x="350.94" y="290.9" font-size="5.0" text-anchor="middle" font-weight="normal" fill="#111" stroke="#111" stroke-width="0.22" >12</text>
<line x1="361.01" y1="284.5" x2="361.01" y2="286.4" stroke="#333" stroke-width="0.7" />
<text x="361.01" y="290.9" font-size="5.0" text-anchor="middle" font-weight="normal" fill="#111" stroke="#111" stroke-width="0.22" >13</text>
<line x1="371.08000000000004" y1="284.5" x2="371.08000000000004" y2="286.4" stroke="#333" stroke-width="0.7" />
<text x="371.08000000000004" y="290.9" font-size="5.0" text-anchor="middle" font-weight="normal" fill="#111" stroke="#111" stroke-width="0.22" >14</text>
<line x1="381.15" y1="284.5" x2="381.15" y2="286.4" stroke="#333" stroke-width="0.7" />
<text x="381.15" y="290.9" font-size="5.0" text-anchor="middle" font-weight="normal" fill="#111" stroke="#111" stroke-width="0.22" >15</text>
<line x1="391.22" y1="284.5" x2="391.22" y2="286.4" stroke="#333" stroke-width="0.7" />
<text x="391.22" y="290.9" font-size="5.0" text-anchor="middle" font-weight="normal" fill="#111" stroke="#111" stroke-width="0.22" >16</text>
<text x="296.8" y="298.0" font-size="5.6" text-anchor="start" font-weight="normal" fill="#111" stroke="#111" stroke-width="0.22" textLength="29" lengthAdjust="spacingAndGlyphs" >Time(years)</text>
<text x="208.7" y="230.4" font-size="5.4" text-anchor="middle" font-weight="normal" fill="#222" stroke="#222" stroke-width="0.15" transform="rotate(-90 208.7 230.4)" textLength="49.2" lengthAdjust="spacingAndGlyphs" >Survival probability</text>
<text x="233.5" y="262.7" font-size="6.6" text-anchor="start" font-weight="normal" fill="#111" stroke="#111" stroke-width="0.22" textLength="24.4" lengthAdjust="spacingAndGlyphs" >p=0.003</text>
<polyline points="230.8,230.6 320.4,230.6 320.4,284" fill="none" stroke="#222" stroke-width="0.95" stroke-dasharray="1.3 1.2"/>
<line x1="293.8" y1="230.6" x2="293.8" y2="284" stroke="#222" stroke-width="0.95" stroke-dasharray="1.3 1.2"/>
<polyline points="230.80,181.20 235.50,181.20 235.50,183.40 241.00,183.40 241.00,185.30 242.30,185.30 242.30,187.00 243.50,187.00 243.50,188.40 248.50,188.40 248.50,189.80 249.50,189.80 249.50,191.30 250.60,191.30 250.60,193.20 253.50,193.20 253.50,194.30 255.00,194.30 255.00,195.60 256.70,195.60 256.70,196.80 260.50,196.80 260.50,197.60 262.00,197.60 262.00,199.20 274.50,199.20 274.50,201.50 275.50,201.50 275.50,205.00 277.00,205.00 277.00,207.40 281.50,207.40 281.50,208.50 282.50,208.50 282.50,209.80 284.00,209.80 284.00,211.80 286.00,211.80 286.00,214.00 288.00,214.00 288.00,217.40 290.00,217.40 290.00,220.80 296.70,220.80 296.70,226.30 309.00,226.30 309.00,228.50 320.20,228.50 320.20,232.30 333.00,232.30 333.00,234.50 334.50,234.50 334.50,236.00 338.50,236.00 338.50,241.00 343.70,241.00 343.70,251.20 387.40,251.20 387.40,251.20" fill="none" stroke="#2a6ad8" stroke-width="1.3" stroke-linejoin="round" />
<polyline points="230.80,181.20 251.30,181.20 251.30,182.80 252.50,182.80 252.50,184.50 253.80,184.50 253.80,187.20 262.50,187.20 262.50,193.10 279.30,193.10 279.30,196.10 308.80,196.10 308.80,199.90 311.00,199.90 311.00,204.20 332.90,204.20 332.90,217.00 383.00,217.00 383.00,217.00" fill="none" stroke="#eba035" stroke-width="1.2" stroke-linejoin="round" />
<polyline points="230.80,180.40 231.50,180.40 231.50,182.00 232.00,182.00 232.00,183.50 233.00,183.50 233.00,184.80 233.80,184.80 233.80,185.80 235.00,185.80 235.00,187.20 236.00,187.20 236.00,189.30 237.00,189.30 237.00,191.00 238.50,191.00 238.50,192.50 240.00,192.50 240.00,194.00 242.00,194.00 242.00,195.00 244.00,195.00 244.00,196.00 246.50,196.00 246.50,197.00 247.80,197.00 247.80,198.60 248.50,198.60 248.50,200.80 249.00,200.80 249.00,202.50 257.20,202.50 257.20,203.00 258.20,203.00 258.20,204.40 266.60,204.40 266.60,207.00 267.60,207.00 267.60,208.00 270.70,208.00 270.70,214.80 278.90,214.80 278.90,221.90 293.80,221.90 293.80,250.70 309.00,250.70 309.00,250.70" fill="none" stroke="#e41a1c" stroke-width="1.6" stroke-linejoin="round" />
<line x1="277" y1="191.8" x2="277" y2="194.2" stroke="#eba035" stroke-width="0.6" />
<line x1="307" y1="195.0" x2="307" y2="197.39999999999998" stroke="#eba035" stroke-width="0.6" />
<line x1="318" y1="203.0" x2="318" y2="205.39999999999998" stroke="#eba035" stroke-width="0.6" />
<line x1="322" y1="203.0" x2="322" y2="205.39999999999998" stroke="#eba035" stroke-width="0.6" />
<line x1="326" y1="203.0" x2="326" y2="205.39999999999998" stroke="#eba035" stroke-width="0.6" />
<line x1="330" y1="203.0" x2="330" y2="205.39999999999998" stroke="#eba035" stroke-width="0.6" />
<line x1="371.6" y1="215.8" x2="371.6" y2="218.2" stroke="#eba035" stroke-width="0.6" />
<line x1="381" y1="215.8" x2="381" y2="218.2" stroke="#eba035" stroke-width="0.6" />
<line x1="296" y1="219.10000000000002" x2="296" y2="221.5" stroke="#2a6ad8" stroke-width="0.6" />
<line x1="377" y1="250.0" x2="377" y2="252.39999999999998" stroke="#2a6ad8" stroke-width="0.6" />
<line x1="387" y1="250.0" x2="387" y2="252.39999999999998" stroke="#2a6ad8" stroke-width="0.6" />
<line x1="319" y1="227.3" x2="319" y2="229.7" stroke="#2a6ad8" stroke-width="0.6" />
<line x1="330" y1="231.10000000000002" x2="330" y2="233.5" stroke="#2a6ad8" stroke-width="0.6" />
<line x1="309" y1="249.5" x2="309" y2="251.9" stroke="#e41a1c" stroke-width="0.6" />
<text x="357.2" y="187.9" font-size="4.1" text-anchor="start" font-weight="normal" fill="#333" stroke="#333" stroke-width="0.12" textLength="12.2" lengthAdjust="spacingAndGlyphs" >Cluster</text>
<line x1="357.7" y1="193.9" x2="362.8" y2="193.9" stroke="#2a6ad8" stroke-width="1.3" />
<line x1="360.25" y1="192.9" x2="360.25" y2="194.9" stroke="#2a6ad8" stroke-width="0.6" />
<text x="366.3" y="195.6" font-size="4.7" text-anchor="start" font-weight="normal" fill="#333" stroke="#333" stroke-width="0.1" textLength="4.7" lengthAdjust="spacingAndGlyphs" >C1</text>
<line x1="357.7" y1="201.0" x2="362.8" y2="201.0" stroke="#eba035" stroke-width="1.3" />
<line x1="360.25" y1="200.0" x2="360.25" y2="202.0" stroke="#eba035" stroke-width="0.6" />
<text x="366.3" y="202.7" font-size="4.7" text-anchor="start" font-weight="normal" fill="#333" stroke="#333" stroke-width="0.1" textLength="4.7" lengthAdjust="spacingAndGlyphs" >C2</text>
<line x1="357.7" y1="208.5" x2="362.8" y2="208.5" stroke="#e41a1c" stroke-width="1.3" />
<line x1="360.25" y1="207.5" x2="360.25" y2="209.5" stroke="#e41a1c" stroke-width="0.6" />
<text x="366.3" y="210.2" font-size="4.7" text-anchor="start" font-weight="normal" fill="#333" stroke="#333" stroke-width="0.1" textLength="4.7" lengthAdjust="spacingAndGlyphs" >C3</text>
<text x="223.0" y="309.4" font-size="6.3" text-anchor="start" font-weight="normal" fill="#222" stroke="#222" stroke-width="0.22" textLength="41.2" lengthAdjust="spacingAndGlyphs" >Number at risk</text>
<text x="208.6" y="320.3" font-size="5.6" text-anchor="middle" font-weight="bold" fill="#222" transform="rotate(-90 208.6 320.3)" textLength="18.4" lengthAdjust="spacingAndGlyphs" >Cluster</text>
<text x="218.0" y="315.4" font-size="5.0" text-anchor="middle" font-weight="normal" fill="#5a70e0" stroke="#5a70e0" stroke-width="0.22" transform="rotate(-90 218.0 315.4)" textLength="3.9" lengthAdjust="spacingAndGlyphs" >C1</text>
<text x="218.0" y="319.8" font-size="5.0" text-anchor="middle" font-weight="normal" fill="#e8b048" stroke="#e8b048" stroke-width="0.22" transform="rotate(-90 218.0 319.8)" textLength="3.9" lengthAdjust="spacingAndGlyphs" >C2</text>
<text x="218.0" y="323.9" font-size="5.0" text-anchor="middle" font-weight="normal" fill="#e84848" stroke="#e84848" stroke-width="0.22" transform="rotate(-90 218.0 323.9)" textLength="3.9" lengthAdjust="spacingAndGlyphs" >C3</text>
<line x1="222.6" y1="313.0" x2="222.6" y2="327.3" stroke="#333" stroke-width="0.85" />
<line x1="221.2" y1="316.3" x2="222.6" y2="316.3" stroke="#333" stroke-width="0.6" />
<line x1="221.2" y1="320.4" x2="222.6" y2="320.4" stroke="#333" stroke-width="0.6" />
<line x1="221.2" y1="324.5" x2="222.6" y2="324.5" stroke="#333" stroke-width="0.6" />
<line x1="222.6" y1="327.3" x2="397.3" y2="327.3" stroke="#333" stroke-width="0.85" />
<text x="230.1" y="318.0" font-size="4.8" text-anchor="middle" font-weight="normal" fill="#222" stroke="#222" stroke-width="0.22" >44</text>
<text x="230.1" y="322.1" font-size="4.8" text-anchor="middle" font-weight="normal" fill="#222" stroke="#222" stroke-width="0.22" >36</text>
<text x="230.1" y="326.3" font-size="4.8" text-anchor="middle" font-weight="normal" fill="#222" stroke="#222" stroke-width="0.22" >115</text>
<line x1="230.1" y1="327.3" x2="230.1" y2="329.0" stroke="#333" stroke-width="0.7" />
<text x="230.1" y="333.2" font-size="4.6" text-anchor="middle" font-weight="normal" fill="#333" stroke="#333" stroke-width="0.15" >0</text>
<text x="240.17" y="318.0" font-size="4.8" text-anchor="middle" font-weight="normal" fill="#222" stroke="#222" stroke-width="0.22" >43</text>
<text x="240.17" y="322.1" font-size="4.8" text-anchor="middle" font-weight="normal" fill="#222" stroke="#222" stroke-width="0.22" >36</text>
<text x="240.17" y="326.3" font-size="4.8" text-anchor="middle" font-weight="normal" fill="#222" stroke="#222" stroke-width="0.22" >81</text>
<line x1="240.17" y1="327.3" x2="240.17" y2="329.0" stroke="#333" stroke-width="0.7" />
<text x="240.17" y="333.2" font-size="4.6" text-anchor="middle" font-weight="normal" fill="#333" stroke="#333" stroke-width="0.15" >1</text>
<text x="250.24" y="318.0" font-size="4.8" text-anchor="middle" font-weight="normal" fill="#222" stroke="#222" stroke-width="0.22" >38</text>
<text x="250.24" y="322.1" font-size="4.8" text-anchor="middle" font-weight="normal" fill="#222" stroke="#222" stroke-width="0.22" >34</text>
<text x="250.24" y="326.3" font-size="4.8" text-anchor="middle" font-weight="normal" fill="#222" stroke="#222" stroke-width="0.22" >43</text>
<line x1="250.24" y1="327.3" x2="250.24" y2="329.0" stroke="#333" stroke-width="0.7" />
<text x="250.24" y="333.2" font-size="4.6" text-anchor="middle" font-weight="normal" fill="#333" stroke="#333" stroke-width="0.15" >2</text>
<text x="260.31" y="318.0" font-size="4.8" text-anchor="middle" font-weight="normal" fill="#222" stroke="#222" stroke-width="0.22" >36</text>
<text x="260.31" y="322.1" font-size="4.8" text-anchor="middle" font-weight="normal" fill="#222" stroke="#222" stroke-width="0.22" >31</text>
<text x="260.31" y="326.3" font-size="4.8" text-anchor="middle" font-weight="normal" fill="#222" stroke="#222" stroke-width="0.22" >30</text>
<line x1="260.31" y1="327.3" x2="260.31" y2="329.0" stroke="#333" stroke-width="0.7" />
<text x="260.31" y="333.2" font-size="4.6" text-anchor="middle" font-weight="normal" fill="#333" stroke="#333" stroke-width="0.15" >3</text>
<text x="270.38" y="318.0" font-size="4.8" text-anchor="middle" font-weight="normal" fill="#222" stroke="#222" stroke-width="0.22" >34</text>
<text x="270.38" y="322.1" font-size="4.8" text-anchor="middle" font-weight="normal" fill="#222" stroke="#222" stroke-width="0.22" >27</text>
<text x="270.38" y="326.3" font-size="4.8" text-anchor="middle" font-weight="normal" fill="#222" stroke="#222" stroke-width="0.22" >17</text>
<line x1="270.38" y1="327.3" x2="270.38" y2="329.0" stroke="#333" stroke-width="0.7" />
<text x="270.38" y="333.2" font-size="4.6" text-anchor="middle" font-weight="normal" fill="#333" stroke="#333" stroke-width="0.15" >4</text>
<text x="280.45" y="318.0" font-size="4.8" text-anchor="middle" font-weight="normal" fill="#222" stroke="#222" stroke-width="0.22" >30</text>
<text x="280.45" y="322.1" font-size="4.8" text-anchor="middle" font-weight="normal" fill="#222" stroke="#222" stroke-width="0.22" >27</text>
<text x="280.45" y="326.3" font-size="4.8" text-anchor="middle" font-weight="normal" fill="#222" stroke="#222" stroke-width="0.22" >4</text>
<line x1="280.45" y1="327.3" x2="280.45" y2="329.0" stroke="#333" stroke-width="0.7" />
<text x="280.45" y="333.2" font-size="4.6" text-anchor="middle" font-weight="normal" fill="#333" stroke="#333" stroke-width="0.15" >5</text>
<text x="290.52" y="318.0" font-size="4.8" text-anchor="middle" font-weight="normal" fill="#222" stroke="#222" stroke-width="0.22" >24</text>
<text x="290.52" y="322.1" font-size="4.8" text-anchor="middle" font-weight="normal" fill="#222" stroke="#222" stroke-width="0.22" >23</text>
<text x="290.52" y="326.3" font-size="4.8" text-anchor="middle" font-weight="normal" fill="#222" stroke="#222" stroke-width="0.22" >2</text>
<line x1="290.52" y1="327.3" x2="290.52" y2="329.0" stroke="#333" stroke-width="0.7" />
<text x="290.52" y="333.2" font-size="4.6" text-anchor="middle" font-weight="normal" fill="#333" stroke="#333" stroke-width="0.15" >6</text>
<text x="300.59000000000003" y="318.0" font-size="4.8" text-anchor="middle" font-weight="normal" fill="#222" stroke="#222" stroke-width="0.22" >21</text>
<text x="300.59000000000003" y="322.1" font-size="4.8" text-anchor="middle" font-weight="normal" fill="#222" stroke="#222" stroke-width="0.22" >25</text>
<text x="300.59000000000003" y="326.3" font-size="4.8" text-anchor="middle" font-weight="normal" fill="#222" stroke="#222" stroke-width="0.22" >1</text>
<line x1="300.59000000000003" y1="327.3" x2="300.59000000000003" y2="329.0" stroke="#333" stroke-width="0.7" />
<text x="300.59000000000003" y="333.2" font-size="4.6" text-anchor="middle" font-weight="normal" fill="#333" stroke="#333" stroke-width="0.15" >7</text>
<text x="310.65999999999997" y="318.0" font-size="4.8" text-anchor="middle" font-weight="normal" fill="#222" stroke="#222" stroke-width="0.22" >20</text>
<text x="310.65999999999997" y="322.1" font-size="4.8" text-anchor="middle" font-weight="normal" fill="#222" stroke="#222" stroke-width="0.22" >19</text>
<text x="310.65999999999997" y="326.3" font-size="4.8" text-anchor="middle" font-weight="normal" fill="#222" stroke="#222" stroke-width="0.22" >0</text>
<line x1="310.65999999999997" y1="327.3" x2="310.65999999999997" y2="329.0" stroke="#333" stroke-width="0.7" />
<text x="310.65999999999997" y="333.2" font-size="4.6" text-anchor="middle" font-weight="normal" fill="#333" stroke="#333" stroke-width="0.15" >8</text>
<text x="320.73" y="318.0" font-size="4.8" text-anchor="middle" font-weight="normal" fill="#222" stroke="#222" stroke-width="0.22" >14</text>
<text x="320.73" y="322.1" font-size="4.8" text-anchor="middle" font-weight="normal" fill="#222" stroke="#222" stroke-width="0.22" >15</text>
<text x="320.73" y="326.3" font-size="4.8" text-anchor="middle" font-weight="normal" fill="#222" stroke="#222" stroke-width="0.22" >0</text>
<line x1="320.73" y1="327.3" x2="320.73" y2="329.0" stroke="#333" stroke-width="0.7" />
<text x="320.73" y="333.2" font-size="4.6" text-anchor="middle" font-weight="normal" fill="#333" stroke="#333" stroke-width="0.15" >9</text>
<text x="330.8" y="318.0" font-size="4.8" text-anchor="middle" font-weight="normal" fill="#222" stroke="#222" stroke-width="0.22" >13</text>
<text x="330.8" y="322.1" font-size="4.8" text-anchor="middle" font-weight="normal" fill="#222" stroke="#222" stroke-width="0.22" >7</text>
<text x="330.8" y="326.3" font-size="4.8" text-anchor="middle" font-weight="normal" fill="#222" stroke="#222" stroke-width="0.22" >0</text>
<line x1="330.8" y1="327.3" x2="330.8" y2="329.0" stroke="#333" stroke-width="0.7" />
<text x="330.8" y="333.2" font-size="4.6" text-anchor="middle" font-weight="normal" fill="#333" stroke="#333" stroke-width="0.15" >10</text>
<text x="340.87" y="318.0" font-size="4.8" text-anchor="middle" font-weight="normal" fill="#222" stroke="#222" stroke-width="0.22" >6</text>
<text x="340.87" y="322.1" font-size="4.8" text-anchor="middle" font-weight="normal" fill="#222" stroke="#222" stroke-width="0.22" >3</text>
<text x="340.87" y="326.3" font-size="4.8" text-anchor="middle" font-weight="normal" fill="#222" stroke="#222" stroke-width="0.22" >0</text>
<line x1="340.87" y1="327.3" x2="340.87" y2="329.0" stroke="#333" stroke-width="0.7" />
<text x="340.87" y="333.2" font-size="4.6" text-anchor="middle" font-weight="normal" fill="#333" stroke="#333" stroke-width="0.15" >11</text>
<text x="350.94" y="318.0" font-size="4.8" text-anchor="middle" font-weight="normal" fill="#222" stroke="#222" stroke-width="0.22" >2</text>
<text x="350.94" y="322.1" font-size="4.8" text-anchor="middle" font-weight="normal" fill="#222" stroke="#222" stroke-width="0.22" >3</text>
<text x="350.94" y="326.3" font-size="4.8" text-anchor="middle" font-weight="normal" fill="#222" stroke="#222" stroke-width="0.22" >0</text>
<line x1="350.94" y1="327.3" x2="350.94" y2="329.0" stroke="#333" stroke-width="0.7" />
<text x="350.94" y="333.2" font-size="4.6" text-anchor="middle" font-weight="normal" fill="#333" stroke="#333" stroke-width="0.15" >12</text>
<text x="361.01" y="318.0" font-size="4.8" text-anchor="middle" font-weight="normal" fill="#222" stroke="#222" stroke-width="0.22" >2</text>
<text x="361.01" y="322.1" font-size="4.8" text-anchor="middle" font-weight="normal" fill="#222" stroke="#222" stroke-width="0.22" >3</text>
<text x="361.01" y="326.3" font-size="4.8" text-anchor="middle" font-weight="normal" fill="#222" stroke="#222" stroke-width="0.22" >0</text>
<line x1="361.01" y1="327.3" x2="361.01" y2="329.0" stroke="#333" stroke-width="0.7" />
<text x="361.01" y="333.2" font-size="4.6" text-anchor="middle" font-weight="normal" fill="#333" stroke="#333" stroke-width="0.15" >13</text>
<text x="371.08000000000004" y="318.0" font-size="4.8" text-anchor="middle" font-weight="normal" fill="#222" stroke="#222" stroke-width="0.22" >2</text>
<text x="371.08000000000004" y="322.1" font-size="4.8" text-anchor="middle" font-weight="normal" fill="#222" stroke="#222" stroke-width="0.22" >1</text>
<text x="371.08000000000004" y="326.3" font-size="4.8" text-anchor="middle" font-weight="normal" fill="#222" stroke="#222" stroke-width="0.22" >0</text>
<line x1="371.08000000000004" y1="327.3" x2="371.08000000000004" y2="329.0" stroke="#333" stroke-width="0.7" />
<text x="371.08000000000004" y="333.2" font-size="4.6" text-anchor="middle" font-weight="normal" fill="#333" stroke="#333" stroke-width="0.15" >14</text>
<text x="381.15" y="318.0" font-size="4.8" text-anchor="middle" font-weight="normal" fill="#222" stroke="#222" stroke-width="0.22" >1</text>
<text x="381.15" y="322.1" font-size="4.8" text-anchor="middle" font-weight="normal" fill="#222" stroke="#222" stroke-width="0.22" >1</text>
<text x="381.15" y="326.3" font-size="4.8" text-anchor="middle" font-weight="normal" fill="#222" stroke="#222" stroke-width="0.22" >0</text>
<line x1="381.15" y1="327.3" x2="381.15" y2="329.0" stroke="#333" stroke-width="0.7" />
<text x="381.15" y="333.2" font-size="4.6" text-anchor="middle" font-weight="normal" fill="#333" stroke="#333" stroke-width="0.15" >15</text>
<text x="391.22" y="318.0" font-size="4.8" text-anchor="middle" font-weight="normal" fill="#222" stroke="#222" stroke-width="0.22" >0</text>
<text x="391.22" y="322.1" font-size="4.8" text-anchor="middle" font-weight="normal" fill="#222" stroke="#222" stroke-width="0.22" >0</text>
<text x="391.22" y="326.3" font-size="4.8" text-anchor="middle" font-weight="normal" fill="#222" stroke="#222" stroke-width="0.22" >0</text>
<line x1="391.22" y1="327.3" x2="391.22" y2="329.0" stroke="#333" stroke-width="0.7" />
<text x="391.22" y="333.2" font-size="4.6" text-anchor="middle" font-weight="normal" fill="#333" stroke="#333" stroke-width="0.15" >16</text>
<text x="297.6" y="339.2" font-size="5.6" text-anchor="start" font-weight="normal" fill="#111" stroke="#111" stroke-width="0.22" textLength="28.6" lengthAdjust="spacingAndGlyphs" >Time(years)</text>
</svg>
</body></html>
